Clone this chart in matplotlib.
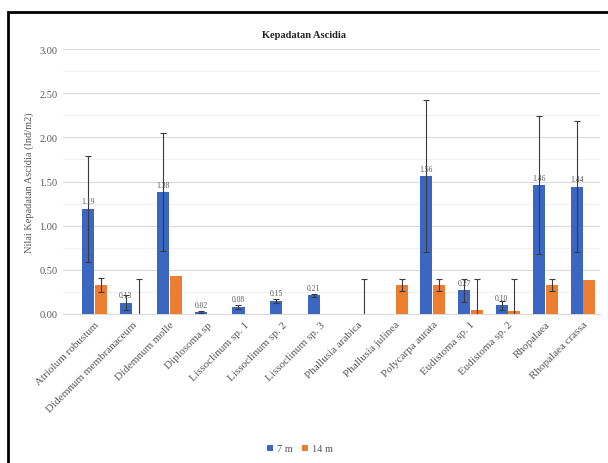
import numpy as np
import matplotlib
from matplotlib import pyplot as plt
from matplotlib.patches import Rectangle

matplotlib.rcParams['font.family'] = ['Liberation Serif', 'DejaVu Serif']

#%% Data
species = ['Atriolum robustum', 'Didemnum membranaceum', 'Didemnum molle', 'Diplosoma sp',
           'Lissoclinum sp. 1', 'Lissoclinum sp. 2', 'Lissoclinum sp. 3', 'Phallusia arabica',
           'Phallusia julinea', 'Polycarpa aurata', 'Eudistoma sp. 1', 'Eudistoma sp. 2',
           'Rhopalaea', 'Rhopalaea crassa']
d7 = [1.19, 0.13, 1.38, 0.02, 0.08, 0.15, 0.21, 0.00, 0.00, 1.56, 0.27, 0.10, 1.46, 1.44]
d7_err = [0.60, 0.08, 0.67, 0.01, 0.02, 0.02, 0.02, 0.00, 0.00, 0.86, 0.13, 0.05, 0.78, 0.74]
d14 = [0.33, 0.00, 0.43, 0.00, 0.00, 0.00, 0.00, 0.00, 0.33, 0.33, 0.05, 0.03, 0.33, 0.39]
d14_err = [0.08, 0.40, 0.00, 0.00, 0.00, 0.00, 0.00, 0.40, 0.07, 0.07, 0.35, 0.37, 0.07, 0.00]
yticks = [0.0, 0.5, 1.0, 1.5, 2.0, 2.5, 3.0]

#%% Plot
W, H = 608, 464
fig = plt.figure(figsize=(W/100, H/100), dpi=100)
ax = fig.add_axes([63/W, 1-315/H, (600-63)/W, (315-50)/H])

x = np.arange(len(species))
w = 0.32
off = 0.17
gray = '#595959'

b1 = ax.bar(x-off, d7, w, color='#3b67c2', linewidth=0, label='7 m', zorder=3)
b2 = ax.bar(x+off, d14, w, color='#ed7d31', linewidth=0, label='14 m', zorder=3)

# error bars only where there is a spread
for xs, vals, errs in [(x-off, d7, d7_err), (x+off, d14, d14_err)]:
    keep = np.array(errs) > 0
    ax.errorbar(xs[keep], np.array(vals)[keep], yerr=np.array(errs)[keep], fmt='none',
                ecolor='#3a3a3a', elinewidth=0.8, capsize=2, capthick=0.8, zorder=4)

for xi, v in zip(x, d7):
    if v > 0:
        ax.text(xi-off, v+0.04, '%.2f' % v, ha='center', va='bottom', fontsize=5.5, color=gray, zorder=5)

ax.set_xlim(-0.84, 13.45)
ax.set_ylim(0, 3.0)
ax.set_yticks(yticks)
ax.set_yticklabels(['%.2f' % t for t in yticks], fontsize=7.5, color=gray)
ax.set_yticks(np.arange(0.25, 3.0, 0.5), minor=True)
ax.set_xticks(x)
ax.set_xticklabels(species, rotation=45, ha='right', rotation_mode='anchor', fontsize=8, color=gray)
ax.tick_params(axis='both', which='both', length=0, pad=4)
ax.grid(axis='y', which='major', color='#d9d9d9', linewidth=0.8, zorder=0)
ax.grid(axis='y', which='minor', color='#efefef', linewidth=0.6, zorder=0)
for s in ['top', 'right', 'left']:
    ax.spines[s].set_visible(False)
ax.spines['bottom'].set_color('#d9d9d9')

ax.set_ylabel('Nilai Kepadatan Ascidia (Ind/m2)', fontsize=7.5, color=gray, labelpad=4)
fig.text(0.5, 1-35/H, 'Kepadatan Ascidia', ha='center', va='center', fontsize=7.5,
         fontweight='bold', color='#222222')

fig.legend(handles=[b1, b2], loc='center', bbox_to_anchor=(300/W, 1-450/H), ncol=2, frameon=False,
           fontsize=7.5, labelcolor=gray, handlelength=0.6, handleheight=0.6, handletextpad=0.4,
           columnspacing=0.8)

# outer border
fig.patches.append(Rectangle((8/W, -0.05), 1.1, 1-13/H+0.05, transform=fig.transFigure,
                             fill=False, edgecolor='black', linewidth=2))

fig.savefig('out.png', dpi=100)
